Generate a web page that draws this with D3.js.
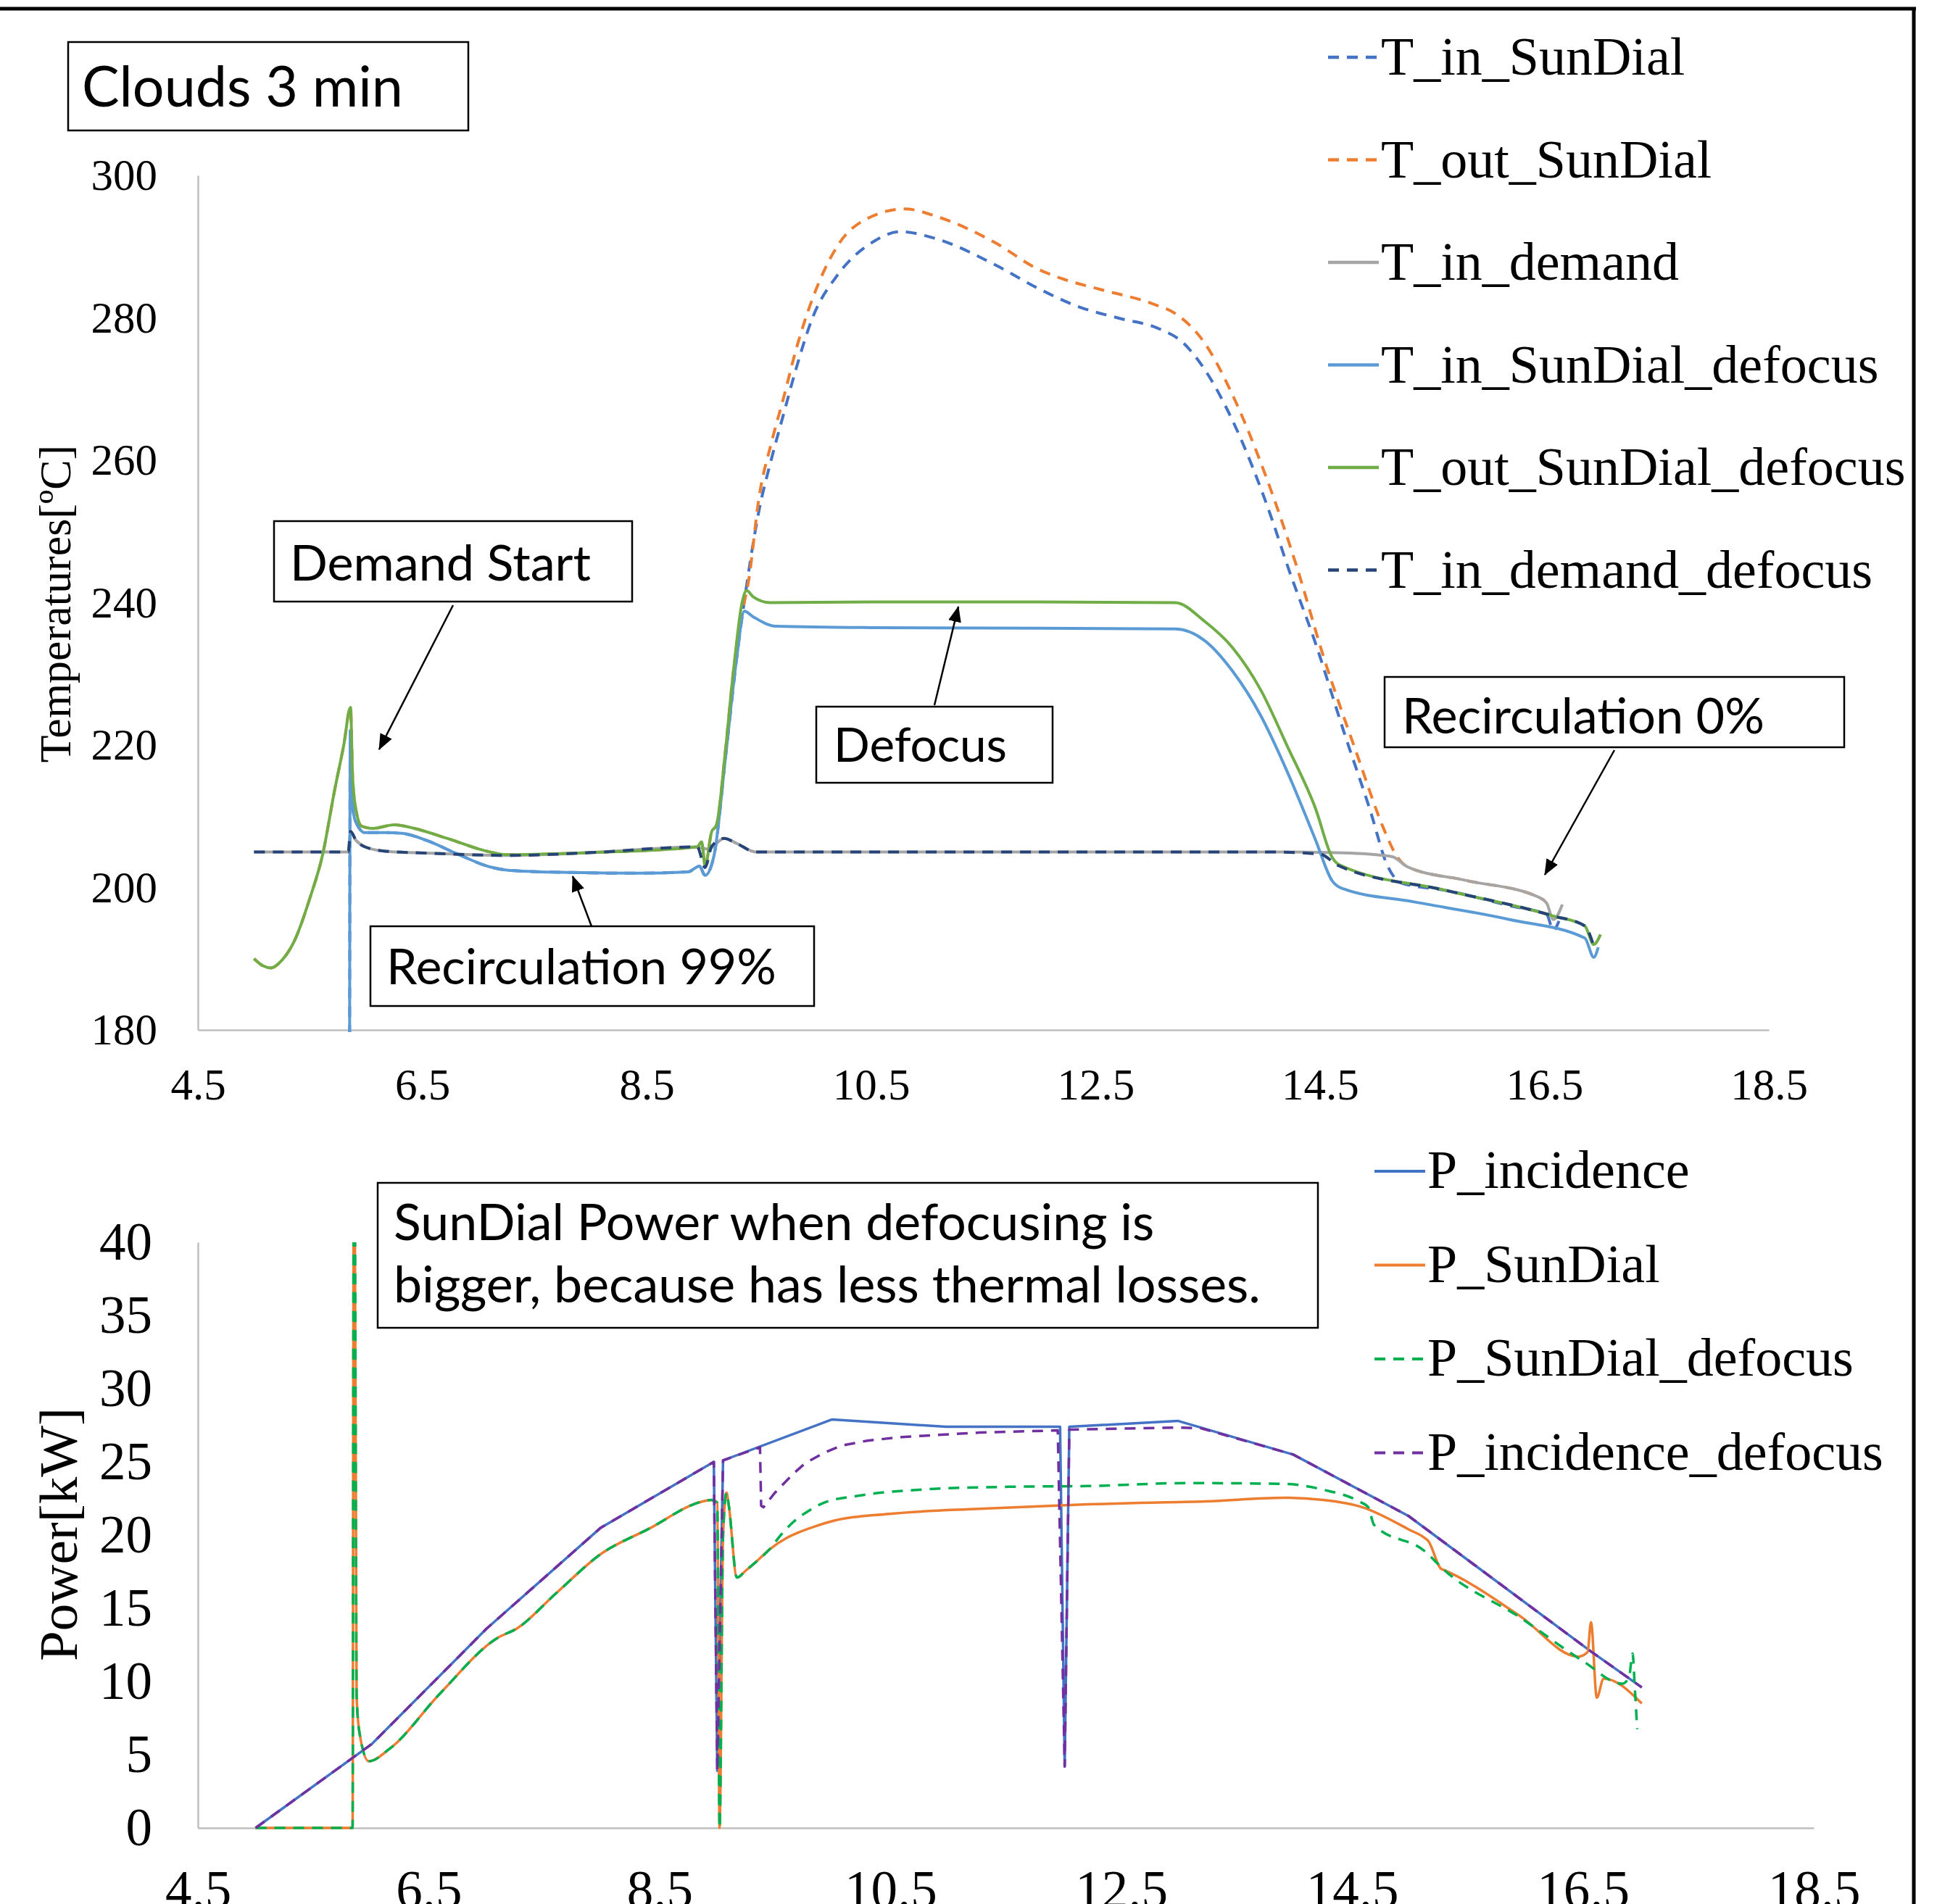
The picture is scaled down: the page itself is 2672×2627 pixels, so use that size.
<!DOCTYPE html>
<html>
<head>
<meta charset="utf-8">
<script src="https://cdn.jsdelivr.net/npm/d3@7"></script>
<style>
  body { margin: 0; background: #fff; }
  svg { display: block; }
</style>
</head>
<body>
<div id="chart"></div>
<script>
// ---------- top chart: temperatures (hour of day, ºC) ----------
var topXTicks = [4.5, 6.5, 8.5, 10.5, 12.5, 14.5, 16.5, 18.5];
var topYTicks = [180, 200, 220, 240, 260, 280, 300];

var tInSunDialHour = [5.85, 5.858, 5.87, 5.9, 5.99, 6.17, 6.32, 6.54, 6.8, 7.1, 7.28, 7.84, 8.4, 8.87, 8.97, 9.02, 9.1, 9.2, 9.3, 9.39, 9.5, 9.61, 9.72, 9.83, 9.98, 10.2, 10.5, 10.76, 11.06, 11.61, 11.98, 12.36, 12.72, 13.06, 13.28, 13.47, 13.72, 14.07, 14.21, 14.46, 14.71, 14.95, 15.1, 15.23, 15.62, 16.2, 16.52, 16.58, 16.63];
var tInSunDial = [150, 222, 213, 209.5, 207.7, 207.7, 207.6, 206.6, 204.8, 202.9, 202.4, 202.1, 202.0, 202.2, 203.0, 201.7, 204.5, 218, 232, 242.4, 252.9, 260.1, 266.5, 272.8, 280.1, 286.0, 290.5, 292.1, 291.2, 287.4, 284.2, 281.5, 279.9, 278.5, 276.5, 272.8, 265.6, 251.8, 245.2, 234.3, 222.0, 210.7, 203.1, 200.6, 199.6, 197.4, 196.2, 194.0, 195.3];

var tOutSunDialHour = [5.0, 5.08, 5.15, 5.25, 5.36, 5.5, 5.61, 5.72, 5.8, 5.86, 5.88, 5.92, 5.96, 6.06, 6.25, 6.43, 6.72, 7.1, 7.26, 8.0, 8.95, 8.99, 9.02, 9.08, 9.12, 9.2, 9.27, 9.35, 9.41, 9.5, 9.61, 9.72, 9.83, 9.98, 10.2, 10.5, 10.8, 11.09, 11.61, 11.98, 12.2, 12.54, 13.02, 13.21, 13.47, 13.72, 14.0, 14.29, 14.53, 14.83, 15.08, 15.18, 15.28, 15.8, 16.44, 16.5];
var tOutSunDial = [190.0, 189.0, 188.7, 189.8, 192.5, 198.6, 204.5, 213.8, 220.0, 225.3, 215.0, 210.0, 208.6, 208.3, 208.8, 208.3, 206.9, 205.0, 204.6, 204.9, 205.7, 206.4, 203.0, 207.9, 208.7, 219.0, 230.0, 238.5, 243.3, 254.7, 262.4, 268.8, 275.5, 282.8, 290.1, 294.2, 295.3, 294.2, 290.5, 286.9, 285.5, 284.0, 281.9, 280.6, 276.5, 269.2, 258.5, 245.2, 232.5, 218.7, 207.8, 204.5, 202.9, 201.0, 198.7, 198.2];

var tInDemandHour = [5.0, 5.84, 5.86, 5.91, 5.99, 6.17, 6.6, 7.26, 8.0, 8.95, 9.0, 9.05, 9.19, 9.3, 9.47, 10.5, 12.5, 14.0, 14.58, 15.0, 15.15, 15.28, 15.8, 16.44, 16.52, 16.58, 16.66];
var tInDemand = [205.0, 205.0, 207.7, 206.6, 205.7, 205.1, 204.8, 204.5, 204.9, 205.7, 205.5, 205.4, 206.9, 206.2, 205.0, 205.0, 205.0, 205.0, 204.9, 204.6, 204.3, 202.9, 201.0, 198.7, 197.8, 195.5, 197.6];

var tInSunDialDefHour = [5.85, 5.858, 5.87, 5.9, 5.99, 6.17, 6.32, 6.54, 6.8, 7.1, 7.28, 7.84, 8.4, 8.87, 8.97, 9.02, 9.1, 9.2, 9.3, 9.37, 9.45, 9.65, 10.5, 12.0, 13.21, 13.47, 13.72, 13.97, 14.21, 14.46, 14.61, 14.71, 15.33, 16.19, 16.86, 16.94, 16.98];
var tInSunDialDef = [150, 222, 213, 209.5, 207.7, 207.7, 207.6, 206.6, 204.8, 202.9, 202.4, 202.1, 202.0, 202.2, 203.0, 201.7, 204.5, 218, 232, 238.8, 238.0, 236.7, 236.5, 236.4, 236.3, 234.7, 230.4, 224.2, 216.2, 206.7, 200.9, 199.8, 198.0, 195.5, 192.9, 190.2, 191.6];

var tOutSunDialDefHour = [5.0, 5.08, 5.15, 5.25, 5.36, 5.5, 5.61, 5.72, 5.8, 5.86, 5.88, 5.92, 5.96, 6.06, 6.25, 6.43, 6.72, 7.1, 7.26, 8.0, 8.95, 8.99, 9.02, 9.08, 9.12, 9.2, 9.27, 9.35, 9.39, 9.45, 9.6, 10.5, 12.0, 13.21, 13.47, 13.72, 13.97, 14.21, 14.46, 14.61, 14.67, 15.62, 16.58, 16.86, 16.94, 17.0];
var tOutSunDialDef = [190.0, 189.0, 188.7, 189.8, 192.5, 198.6, 204.5, 213.8, 220.0, 225.3, 215.0, 210.0, 208.6, 208.3, 208.8, 208.3, 206.9, 205.0, 204.6, 204.9, 205.7, 206.4, 203.0, 207.9, 208.7, 219.0, 230.0, 240.0, 241.7, 240.8, 240.0, 240.1, 240.1, 240.0, 237.4, 233.7, 227.8, 219.8, 211.1, 204.2, 203.2, 199.6, 196.0, 194.6, 192.0, 193.4];

var tInDemandDefHour = [5.0, 5.84, 5.86, 5.91, 5.99, 6.17, 6.6, 7.26, 8.0, 8.95, 9.02, 9.08, 9.19, 9.3, 9.47, 10.5, 12.5, 14.0, 14.5, 14.66, 15.62, 16.58, 16.86, 16.94];
var tInDemandDef = [205.0, 205.0, 207.9, 206.6, 205.7, 205.1, 204.8, 204.5, 204.9, 205.7, 202.8, 205.8, 206.9, 206.2, 205.0, 205.0, 205.0, 205.0, 204.7, 203.1, 199.6, 196.0, 194.6, 191.8];

// ---------- bottom chart: power (hour of day, kW) ----------
var botXTicks = [4.5, 6.5, 8.5, 10.5, 12.5, 14.5, 16.5, 18.5];
var botYTicks = [0, 5, 10, 15, 20, 25, 30, 35, 40];

var pIncHour = [5.0, 6.01, 7.0, 7.99, 8.97, 9.0, 9.05, 9.995, 10.98, 11.97, 12.01, 12.05, 12.99, 13.99, 14.99, 16.57, 17.01];
var pInc = [0, 5.75, 13.6, 20.5, 25.0, 3.9, 25.1, 27.9, 27.4, 27.4, 4.2, 27.4, 27.8, 25.5, 21.3, 12.05, 9.6];

var pSunHour = [5.0, 5.84, 5.85, 5.86, 5.875, 5.9, 5.98, 6.16, 6.6, 7.1, 7.26, 7.6, 7.99, 8.4, 8.875, 8.95, 9.0, 9.02, 9.05, 9.08, 9.1, 9.17, 9.25, 9.34, 9.45, 9.6, 9.71, 9.85, 10.02, 10.49, 11.27, 12.21, 12.67, 13.23, 13.91, 14.25, 14.59, 15.0, 15.13, 15.16, 15.27, 15.3, 15.95, 16.46, 16.54, 16.57, 16.62, 16.68, 17.01];
var pSun = [0, 0, 42, 41, 9, 6.5, 4.55, 5.4, 9.2, 13.0, 13.6, 16.0, 18.7, 20.4, 22.3, 22.4, 22.2, 0, 20, 22.9, 22.0, 17.1, 17.6, 18.2, 19.0, 19.8, 20.2, 20.6, 21.0, 21.45, 21.8, 22.1, 22.2, 22.3, 22.55, 22.4, 21.9, 20.35, 19.8, 19.6, 17.7, 17.6, 14.5, 11.7, 12.0, 14.05, 8.9, 10.2, 8.5];

var pSunDefHour = [5.0, 5.84, 5.85, 5.86, 5.875, 5.9, 5.98, 6.16, 6.6, 7.1, 7.26, 7.6, 7.99, 8.4, 8.875, 8.95, 9.0, 9.02, 9.05, 9.08, 9.1, 9.17, 9.25, 9.34, 9.45, 9.55, 9.66, 9.8, 9.92, 10.23, 10.75, 11.53, 12.21, 13.06, 13.91, 14.25, 14.56, 14.64, 14.69, 15.13, 15.3, 15.95, 16.5, 16.84, 16.9, 16.93, 16.95, 16.97];
var pSunDef = [0, 0, 42, 41, 9, 6.5, 4.55, 5.4, 9.2, 13.0, 13.6, 16.0, 18.7, 20.4, 22.3, 22.4, 22.2, 0, 20, 22.9, 22.0, 17.1, 17.6, 18.2, 19.0, 20.0, 20.9, 21.7, 22.2, 22.7, 23.1, 23.3, 23.35, 23.55, 23.5, 23.1, 22.3, 21.9, 20.7, 18.9, 17.6, 14.4, 11.4, 9.85, 10.3, 11.9, 9.5, 6.75];

var pIncDefHour = [5.0, 6.01, 7.0, 7.99, 8.97, 9.0, 9.05, 9.37, 9.38, 9.4, 9.5, 9.66, 9.76, 9.92, 10.07, 10.3, 10.6, 11.27, 11.95, 12.01, 12.05, 12.67, 12.99, 13.19, 13.99, 14.99, 16.57, 17.01];
var pIncDef = [0, 5.75, 13.6, 20.5, 25.0, 3.9, 25.1, 26.0, 22.0, 21.9, 22.9, 24.2, 24.9, 25.6, 26.1, 26.45, 26.7, 27.0, 27.15, 4.2, 27.2, 27.3, 27.35, 27.3, 25.5, 21.3, 12.05, 9.6];

var W = 2672, H = 2627;
var serif = "'Liberation Serif', 'Times New Roman', serif";
var sans = "Lato, 'Open Sans', sans-serif";

var svg = d3.select("#chart").append("svg")
    .attr("width", W)
    .attr("height", H);

var defs = svg.append("defs");
defs.append("marker")
    .attr("id", "arrow")
    .attr("viewBox", "0 0 22 18")
    .attr("refX", 21)
    .attr("refY", 9)
    .attr("markerWidth", 22)
    .attr("markerHeight", 18)
    .attr("markerUnits", "userSpaceOnUse")
    .attr("orient", "auto")
    .append("path")
    .attr("d", "M0,0L22,9L0,18Z")
    .attr("fill", "#000");

// frame (top and right edge of the figure)
svg.append("line").attr("x1", 0).attr("x2", 2643).attr("y1", 12).attr("y2", 12)
    .attr("stroke", "#000").attr("stroke-width", 5);
svg.append("line").attr("x1", 2640).attr("x2", 2640).attr("y1", 10).attr("y2", H)
    .attr("stroke", "#000").attr("stroke-width", 5);

function zip(hours, vals) {
    return hours.map(function (h, i) { return {x: h, y: vals[i]}; });
}

function drawSeries(g, x, y, series, clipId) {
    var layer = g.append("g").attr("clip-path", "url(#" + clipId + ")");
    series.forEach(function (s) {
        var line = d3.line()
            .x(function (d) { return x(d.x); })
            .y(function (d) { return y(d.y); })
            .curve(s.linear ? d3.curveLinear : d3.curveMonotoneX);
        layer.append("path")
            .datum(zip(s.hours, s.vals))
            .attr("d", line)
            .attr("fill", "none")
            .attr("stroke", s.color)
            .attr("stroke-width", s.width)
            .attr("stroke-dasharray", s.dash ? s.dash : null)
            .attr("stroke-linejoin", "round");
    });
}

function drawLegend(series, x0, y0, step, fontSize, off) {
    var lg = svg.append("g");
    series.forEach(function (s, i) {
        var yy = y0 + i * step;
        lg.append("line")
            .attr("x1", x0).attr("x2", x0 + 70)
            .attr("y1", yy).attr("y2", yy)
            .attr("stroke", s.color)
            .attr("stroke-width", s.width + 0.5)
            .attr("stroke-dasharray", s.dash ? s.dash : null);
        lg.append("text")
            .attr("x", x0 + 73)
            .attr("y", yy + off)
            .attr("font-family", serif)
            .attr("font-size", fontSize)
            .attr("fill", "#000")
            .text(s.name);
    });
}

function styleAxis(g, fontSize) {
    g.attr("font-family", serif).attr("font-size", fontSize);
    g.select(".domain").attr("stroke", "#bfbfbf").attr("stroke-width", 2.5);
    g.selectAll("text").attr("fill", "#000");
}

function fitText(t, target) {
    var w = t.node().getComputedTextLength();
    var fs = parseFloat(t.attr("font-size"));
    t.attr("font-size", fs * target / w);
}

function noteBox(x, y, w, h, lines, tx, baselines, target) {
    svg.append("rect")
        .attr("x", x).attr("y", y).attr("width", w).attr("height", h)
        .attr("fill", "#fff").attr("stroke", "#000").attr("stroke-width", 2.5);
    var texts = lines.map(function (s, i) {
        return svg.append("text")
            .attr("x", tx).attr("y", baselines[i])
            .attr("font-family", sans)
            .attr("font-size", 74)
            .attr("fill", "#000")
            .text(s);
    });
    var ref = texts[texts.length - 1];
    fitText(ref, target);
    texts.forEach(function (t) { t.attr("font-size", ref.attr("font-size")); });
}

function arrow(x1, y1, x2, y2) {
    svg.append("line")
        .attr("x1", x1).attr("y1", y1).attr("x2", x2).attr("y2", y2)
        .attr("stroke", "#000").attr("stroke-width", 2.5)
        .attr("marker-end", "url(#arrow)");
}

// ================= top chart =================
var xT = d3.scaleLinear().domain([4.5, 18.5]).range([273, 2440]);
var yT = d3.scaleLinear().domain([180, 300]).range([1421, 242]);

defs.append("clipPath").attr("id", "clipTop").append("rect")
    .attr("x", 273).attr("y", 242).attr("width", 2440 - 273).attr("height", 1424 - 242);

var gTop = svg.append("g");

gTop.append("g")
    .attr("transform", "translate(0,1421)")
    .call(d3.axisBottom(xT).tickValues(topXTicks).tickSize(0).tickSizeOuter(0).tickPadding(53)
        .tickFormat(d3.format(".1f")))
    .call(styleAxis, 61);

gTop.append("g")
    .attr("transform", "translate(273,0)")
    .call(d3.axisLeft(yT).tickValues(topYTicks).tickSize(0).tickSizeOuter(0).tickPadding(56))
    .call(styleAxis, 61);

var topSeries = [
    {name: "T_in_SunDial", hours: tInSunDialHour, vals: tInSunDial, color: "#4472C4", width: 4, dash: "15,11"},
    {name: "T_out_SunDial", hours: tOutSunDialHour, vals: tOutSunDial, color: "#ED7D31", width: 4, dash: "15,11"},
    {name: "T_in_demand", hours: tInDemandHour, vals: tInDemand, color: "#A5A5A5", width: 4},
    {name: "T_in_SunDial_defocus", hours: tInSunDialDefHour, vals: tInSunDialDef, color: "#5B9BD5", width: 4},
    {name: "T_out_SunDial_defocus", hours: tOutSunDialDefHour, vals: tOutSunDialDef, color: "#70AD47", width: 4},
    {name: "T_in_demand_defocus", hours: tInDemandDefHour, vals: tInDemandDef, color: "#264478", width: 4, dash: "15,11"}
];
drawSeries(gTop, xT, yT, topSeries, "clipTop");
drawLegend(topSeries, 1832, 79, 141.5, 74, 24);

svg.append("text")
    .attr("transform", "translate(97,833) rotate(-90)")
    .attr("text-anchor", "middle")
    .attr("font-family", serif)
    .attr("font-size", 62)
    .text("Temperatures[ºC]");

// ================= bottom chart =================
var xB = d3.scaleLinear().domain([4.5, 18.5]).range([273, 2502]);
var yB = d3.scaleLinear().domain([0, 40]).range([2522, 1714]);

defs.append("clipPath").attr("id", "clipBot").append("rect")
    .attr("x", 273).attr("y", 1714).attr("width", 2502 - 273).attr("height", 2524 - 1714);

var gBot = svg.append("g");

gBot.append("g")
    .attr("transform", "translate(0,2522)")
    .call(d3.axisBottom(xB).tickValues(botXTicks).tickSize(0).tickSizeOuter(0).tickPadding(58)
        .tickFormat(d3.format(".1f")))
    .call(styleAxis, 73);

gBot.append("g")
    .attr("transform", "translate(273,0)")
    .call(d3.axisLeft(yB).tickValues(botYTicks).tickSize(0).tickSizeOuter(0).tickPadding(63))
    .call(styleAxis, 73);

var botSeries = [
    {name: "P_incidence", hours: pIncHour, vals: pInc, color: "#4472C4", width: 3.5, linear: true},
    {name: "P_SunDial", hours: pSunHour, vals: pSun, color: "#ED7D31", width: 3.5},
    {name: "P_SunDial_defocus", hours: pSunDefHour, vals: pSunDef, color: "#00B050", width: 3.5, dash: "15,11"},
    {name: "P_incidence_defocus", hours: pIncDefHour, vals: pIncDef, color: "#7030A0", width: 3.5, dash: "15,11", linear: true}
];
drawSeries(gBot, xB, yB, botSeries, "clipBot");
drawLegend(botSeries, 1896, 1616, 129.5, 74, 23);

svg.append("text")
    .attr("transform", "translate(106,2117) rotate(-90)")
    .attr("text-anchor", "middle")
    .attr("font-family", serif)
    .attr("font-size", 75)
    .text("Power[kW]");

// ================= annotations =================
noteBox(94, 58, 552, 122, ["Clouds 3 min"], 113, [147], 443);
noteBox(378, 719, 494, 111, ["Demand Start"], 400, [801], 415);
noteBox(1126, 975, 326, 105, ["Defocus"], 1150, [1051], 239);
noteBox(511, 1278, 612, 110, ["Recirculation 99%"], 533, [1358], 538);
noteBox(1910, 934, 634, 97, ["Recirculation 0%"], 1934, [1012], 500);
noteBox(521, 1632, 1297, 200, ["SunDial Power when defocusing is", "bigger, because has less thermal losses."], 543, [1711, 1797], 1196);

arrow(625, 835, 523, 1034);
arrow(1289, 973, 1322, 837);
arrow(816, 1278, 790, 1209);
arrow(2227, 1035, 2131, 1207);
</script>
</body>
</html>
